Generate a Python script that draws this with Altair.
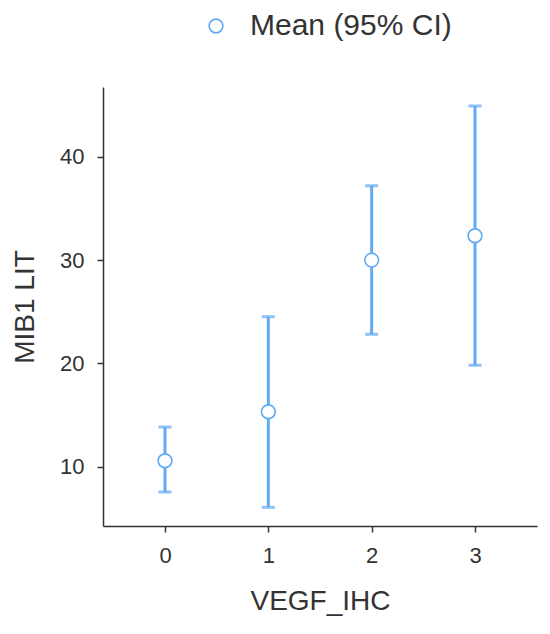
import altair as alt
import pandas as pd

categories = [0, 1, 2, 3]
means = [10.58, 15.32, 30.0, 32.36]
lower = [7.55, 6.07, 22.82, 19.82]
upper = [13.84, 24.52, 37.2, 44.92]
series = ["Mean (95% CI)"] * 4

df = pd.DataFrame({"VEGF_IHC": categories, "mean": means, "lo": lower, "hi": upper, "series": series})

BLUE = "#62aaf2"
FONT = "Liberation Sans"
TEXT = "#333333"

x = alt.X("VEGF_IHC:Q", scale=alt.Scale(domain=[-0.6, 3.6], nice=False, zero=False),
          axis=alt.Axis(values=[0, 1, 2, 3], title="VEGF_IHC", format="d"))
y_scale = alt.Scale(domain=[4.26, 46.76], nice=False, zero=False)

base = alt.Chart(df)

rules = base.mark_rule(color=BLUE, strokeWidth=3).encode(
    x=x,
    y=alt.Y("lo:Q", scale=y_scale, axis=alt.Axis(values=[10, 20, 30, 40], title="MIB1 LIT")),
    y2="hi:Q",
)
cap_lo = base.mark_tick(color=BLUE, orient="horizontal", size=13, thickness=3).encode(
    x=x, y=alt.Y("lo:Q", scale=y_scale))
cap_hi = base.mark_tick(color=BLUE, orient="horizontal", size=13, thickness=3).encode(
    x=x, y=alt.Y("hi:Q", scale=y_scale))
points = base.mark_point(shape="circle", size=190, fill="white", fillOpacity=1,
                         strokeWidth=1.6, opacity=1).encode(
    x=x,
    y=alt.Y("mean:Q", scale=y_scale),
    stroke=alt.Stroke("series:N", scale=alt.Scale(range=[BLUE]),
                      legend=alt.Legend(title=None, orient="none", legendX=98, legendY=-76,
                                        symbolType="circle", symbolSize=190,
                                        symbolFillColor="white", symbolStrokeWidth=1.6,
                                        labelFontSize=30, labelFont=FONT, labelColor=TEXT,
                                        labelOffset=19, labelLimit=500)),
)

chart = alt.layer(rules, cap_lo, cap_hi, points).properties(
    width=434, height=439,
    autosize=alt.AutoSizeParams(type="none"),
    padding={"left": 95, "top": 79, "right": 5, "bottom": 100},
).configure_view(stroke=None).configure_axis(
    grid=False,
    domainColor=TEXT, domainWidth=1.5,
    tickColor=TEXT, tickWidth=1.5, tickSize=6,
    labelFont=FONT, labelFontSize=22, labelColor=TEXT, labelPadding=13,
    titleFont=FONT, titleFontSize=28, titleColor=TEXT, titleFontWeight="normal",
).configure_axisY(titlePadding=20).configure_axisX(titlePadding=21)

chart.save("out.html", embed_options={"renderer": "svg", "actions": False})
